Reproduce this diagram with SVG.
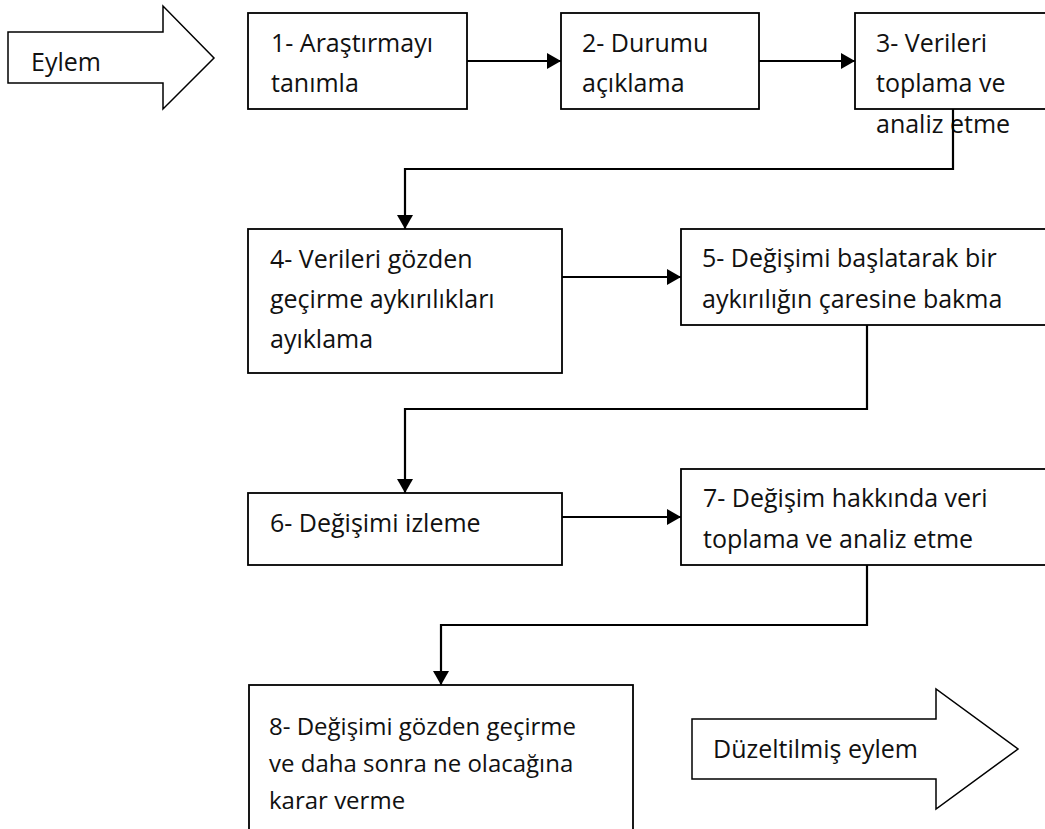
<svg xmlns="http://www.w3.org/2000/svg" width="1045" height="829" viewBox="0 0 1045 829">
<style>
.box{fill:#fff;stroke:#000;stroke-width:1.8}
.big{fill:#fff;stroke:#000;stroke-width:1.5;stroke-linejoin:miter}
.t{font-family:"Open Sans","Noto Sans","Liberation Sans",sans-serif;font-size:25px;fill:#111}
.s{font-size:24px}
.c{fill:none;stroke:#000;stroke-width:2.2}
</style>
<defs>
<marker id="ah" markerUnits="userSpaceOnUse" markerWidth="16" markerHeight="16" refX="14" refY="8" orient="auto">
<path d="M0,0 L14,8 L0,16 Z" fill="#000"/>
</marker>
</defs>
<rect width="1045" height="829" fill="#fff"/>
<g id="start">
<path class="big" d="M8,32 H163 V6 L214,58 L163,109 V83 H8 Z"/>
<text class="t" x="31" y="71">Eylem</text>
</g>
<g id="n1">
<rect class="box" x="248" y="13" width="219" height="96"/>
<text class="t" x="271" y="52">1- Araştırmayı</text>
<text class="t" x="271" y="92">tanımla</text>
</g>
<g id="n2">
<rect class="box" x="561" y="13" width="198" height="96"/>
<text class="t" x="582" y="52">2- Durumu</text>
<text class="t" x="582" y="92">açıklama</text>
</g>
<g id="n3">
<rect class="box" x="855" y="13" width="200" height="96"/>
<text class="t" x="876" y="52">3- Verileri</text>
<text class="t" x="876" y="92">toplama ve</text>
<text class="t" x="876" y="133">analiz etme</text>
</g>
<g id="n4">
<rect class="box" x="248" y="229" width="314" height="144"/>
<text class="t" x="270" y="268">4- Verileri gözden</text>
<text class="t" x="270" y="308">geçirme aykırılıkları</text>
<text class="t" x="270" y="348">ayıklama</text>
</g>
<g id="n5">
<rect class="box" x="681" y="229" width="374" height="96"/>
<text class="t" x="702" y="267">5- Değişimi başlatarak bir</text>
<text class="t" x="702" y="308">aykırılığın çaresine bakma</text>
</g>
<g id="n6">
<rect class="box" x="248" y="493" width="314" height="72"/>
<text class="t" x="270" y="532">6- Değişimi izleme</text>
</g>
<g id="n7">
<rect class="box" x="681" y="469" width="374" height="96"/>
<text class="t" x="703" y="507">7- Değişim hakkında veri</text>
<text class="t" x="703" y="548">toplama ve analiz etme</text>
</g>
<g id="n8">
<rect class="box" x="249" y="685" width="384" height="160"/>
<text class="t s" x="269" y="735">8- Değişimi gözden geçirme</text>
<text class="t s" x="269" y="772">ve daha sonra ne olacağına</text>
<text class="t s" x="269" y="809">karar verme</text>
</g>
<g id="end">
<path class="big" d="M692,719 H936 V689 L1018,749 L936,809 V779 H692 Z"/>
<text class="t" x="713" y="758">Düzeltilmiş eylem</text>
</g>
<g id="connectors">
<path class="c" d="M467,61 H561" marker-end="url(#ah)"/>
<path class="c" d="M759,61 H855" marker-end="url(#ah)"/>
<path class="c" d="M953,109 V169 H405 V229" marker-end="url(#ah)"/>
<path class="c" d="M562,277 H681" marker-end="url(#ah)"/>
<path class="c" d="M867,325 V409 H405 V493" marker-end="url(#ah)"/>
<path class="c" d="M562,517 H681" marker-end="url(#ah)"/>
<path class="c" d="M867,565 V625 H441 V685" marker-end="url(#ah)"/>
</g>
</svg>
